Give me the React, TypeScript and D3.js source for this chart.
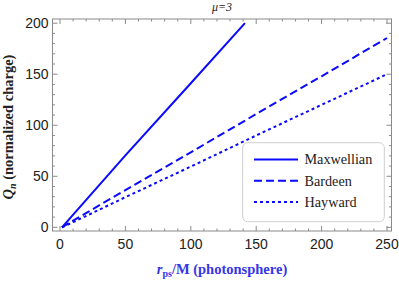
import React from "react";
import * as d3 from "d3";

const maxwellR = [1.5, 50, 100, 141.4];
const maxwellQ = [0, 70.5, 141.2, 200];
const bardeenR = [1.5, 10, 50, 100, 150, 200, 250];
const bardeenQ = [0, 6.5, 36.5, 73.5, 111, 148, 185.5];
const haywardR = [1.5, 10, 50, 100, 150, 200, 250];
const haywardQ = [0, 5, 29.5, 59.5, 90, 120, 150];
const xTicks = [0, 50, 100, 150, 200, 250];
const yTicks = [0, 50, 100, 150, 200];
const legendLabels = ["Maxwellian", "Bardeen", "Hayward"];

const W = 399, H = 281;
const fl = 52.5, fr = 391.5, ft = 19, fb = 231;

export default function App() {
  const x = d3.scaleLinear().domain([0, 250]).range([60, 387]);
  const y = d3.scaleLinear().domain([0, 200]).range([227.3, 23.2]);
  const line = d3.line<[number, number]>().x(d => x(d[0])).y(d => y(d[1]));
  const series = [
    { r: maxwellR, q: maxwellQ, dash: undefined as string | undefined },
    { r: bardeenR, q: bardeenQ, dash: "8,4" },
    { r: haywardR, q: haywardQ, dash: "3,3" },
  ];
  const xMinor = d3.range(-0, 251, 10).filter(v => v % 50 !== 0);
  const yMinor = d3.range(0, 201, 10).filter(v => v % 50 !== 0);
  const frameColor = "#8a8a8a";
  const blue = "#0a0aff";
  const sans = "'Liberation Sans', Arial, sans-serif";
  const serif = "'Liberation Serif', 'Times New Roman', serif";
  return (
    <svg width={W} height={H} style={{ position: "absolute", left: 0, top: 0 }}>
      <defs>
        <clipPath id="clip">
          <rect x={fl} y={ft} width={fr - fl} height={fb - ft} />
        </clipPath>
      </defs>
      <rect x={0} y={0} width={W} height={H} fill="white" />
      <g clipPath="url(#clip)">
        {series.map((s, i) => (
          <path
            key={i}
            d={line(s.r.map((r, j) => [r, s.q[j]] as [number, number])) || ""}
            fill="none"
            stroke={blue}
            strokeWidth={2}
            strokeDasharray={s.dash}
          />
        ))}
      </g>
      <rect x={fl} y={ft} width={fr - fl} height={fb - ft} fill="none" stroke={frameColor} strokeWidth={1} />
      {xTicks.map(t => (
        <g key={"xt" + t}>
          <line x1={x(t)} x2={x(t)} y1={fb} y2={fb - 5} stroke={frameColor} />
          <line x1={x(t)} x2={x(t)} y1={ft} y2={ft + 5} stroke={frameColor} />
          <text x={x(t)} y={248.5} textAnchor="middle" fontFamily={sans} fontSize={14} fill="#222">{t}</text>
        </g>
      ))}
      {xMinor.map(t => (
        <g key={"xm" + t}>
          <line x1={x(t)} x2={x(t)} y1={fb} y2={fb - 2.5} stroke={frameColor} />
          <line x1={x(t)} x2={x(t)} y1={ft} y2={ft + 2.5} stroke={frameColor} />
        </g>
      ))}
      {yTicks.map(t => (
        <g key={"yt" + t}>
          <line x1={fl} x2={fl + 5} y1={y(t)} y2={y(t)} stroke={frameColor} />
          <line x1={fr} x2={fr - 5} y1={y(t)} y2={y(t)} stroke={frameColor} />
          <text x={48.5} y={y(t) + 5} textAnchor="end" fontFamily={sans} fontSize={14} fill="#222">{t}</text>
        </g>
      ))}
      {yMinor.map(t => (
        <g key={"ym" + t}>
          <line x1={fl} x2={fl + 2.5} y1={y(t)} y2={y(t)} stroke={frameColor} />
          <line x1={fr} x2={fr - 2.5} y1={y(t)} y2={y(t)} stroke={frameColor} />
        </g>
      ))}
      <text x={(fl + fr) / 2} y={11} textAnchor="middle" fontFamily={serif} fontStyle="italic" fontSize={12} fill="#222">μ=3</text>
      <text transform={`translate(13,${(ft + fb) / 2 + 2}) rotate(-90)`} textAnchor="middle" fontFamily={serif} fontWeight="bold" fontSize={14.5} fill="#222">
        <tspan fontStyle="italic">Q</tspan><tspan fontStyle="italic" fontSize={10} dy={3}>n</tspan><tspan dy={-3}> (normalized charge)</tspan>
      </text>
      <text x={(fl + fr) / 2} y={274} textAnchor="middle" fontFamily={serif} fontWeight="bold" fontSize={14.5} fill="#3535e8">
        <tspan fontStyle="italic">r</tspan><tspan fontSize={10} dy={3}>ps</tspan><tspan dy={-3}>/M (photonsphere)</tspan>
      </text>
      <rect x={242.7} y={142.7} width={141.6} height={79} rx={5} fill="white" stroke="#cfcfcf" strokeWidth={1} />
      {legendLabels.map((lab, i) => (
        <g key={lab}>
          <line x1={254} x2={298} y1={159.5 + i * 21.2} y2={159.5 + i * 21.2} stroke={blue} strokeWidth={2} strokeDasharray={series[i].dash} />
          <text x={304.5} y={164.3 + i * 21.2} fontFamily={serif} fontSize={14.2} fill="#222">{lab}</text>
        </g>
      ))}
    </svg>
  );
}
